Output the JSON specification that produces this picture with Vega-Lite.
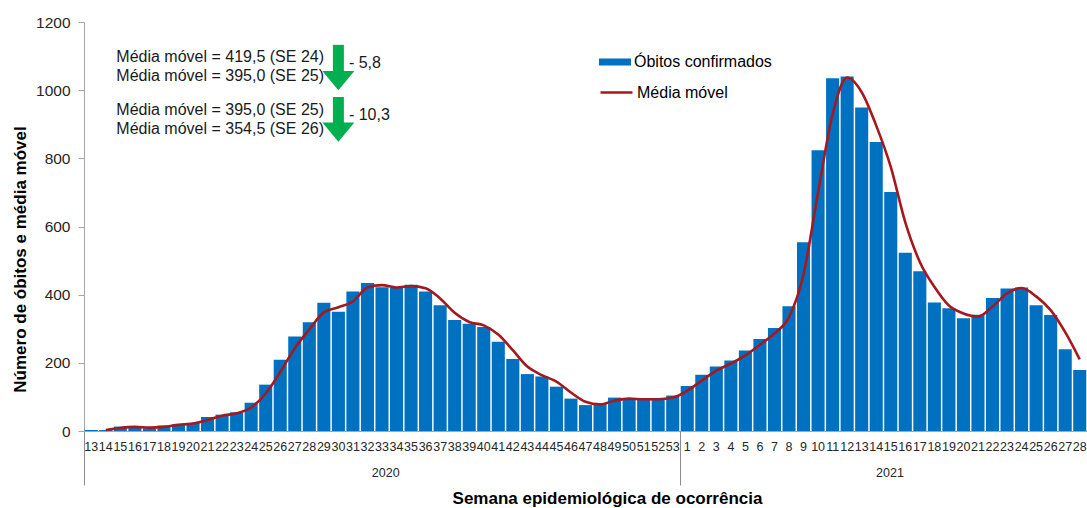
{
  "$schema": "https://vega.github.io/schema/vega-lite/v6.json",
  "width": 1003,
  "height": 409,
  "autosize": {"type": "none"},
  "padding": {"left": 84, "top": 22, "right": 0, "bottom": 77},
  "background": "white",
  "config": {"view": {"stroke": null}, "font": "Liberation Sans", "axis": {"grid": false}},
  "datasets": {
    "weeks": [
      {"k": "2020-13", "obitos": 3, "media": null},
      {"k": "2020-14", "obitos": 3, "media": 3},
      {"k": "2020-15", "obitos": 13, "media": 9},
      {"k": "2020-16", "obitos": 11, "media": 12},
      {"k": "2020-17", "obitos": 8, "media": 10},
      {"k": "2020-18", "obitos": 16, "media": 12},
      {"k": "2020-19", "obitos": 20, "media": 18},
      {"k": "2020-20", "obitos": 24, "media": 22},
      {"k": "2020-21", "obitos": 41, "media": 32},
      {"k": "2020-22", "obitos": 48, "media": 45},
      {"k": "2020-23", "obitos": 55, "media": 52},
      {"k": "2020-24", "obitos": 83, "media": 69},
      {"k": "2020-25", "obitos": 136, "media": 110},
      {"k": "2020-26", "obitos": 209, "media": 173},
      {"k": "2020-27", "obitos": 277, "media": 243},
      {"k": "2020-28", "obitos": 319, "media": 298},
      {"k": "2020-29", "obitos": 376, "media": 348},
      {"k": "2020-30", "obitos": 350, "media": 363},
      {"k": "2020-31", "obitos": 409, "media": 380},
      {"k": "2020-32", "obitos": 434, "media": 421},
      {"k": "2020-33", "obitos": 422, "media": 428},
      {"k": "2020-34", "obitos": 421, "media": 421},
      {"k": "2020-35", "obitos": 429, "media": 425},
      {"k": "2020-36", "obitos": 409, "media": 419},
      {"k": "2020-37", "obitos": 369, "media": 389},
      {"k": "2020-38", "obitos": 326, "media": 347},
      {"k": "2020-39", "obitos": 315, "media": 320},
      {"k": "2020-40", "obitos": 305, "media": 310},
      {"k": "2020-41", "obitos": 262, "media": 283},
      {"k": "2020-42", "obitos": 211, "media": 237},
      {"k": "2020-43", "obitos": 167, "media": 189},
      {"k": "2020-44", "obitos": 160, "media": 164},
      {"k": "2020-45", "obitos": 130, "media": 145},
      {"k": "2020-46", "obitos": 95, "media": 113},
      {"k": "2020-47", "obitos": 76, "media": 86},
      {"k": "2020-48", "obitos": 79, "media": 78},
      {"k": "2020-49", "obitos": 98, "media": 89},
      {"k": "2020-50", "obitos": 93, "media": 95},
      {"k": "2020-51", "obitos": 93, "media": 93},
      {"k": "2020-52", "obitos": 93, "media": 93},
      {"k": "2020-53", "obitos": 104, "media": 98},
      {"k": "2021-1", "obitos": 132, "media": 118},
      {"k": "2021-2", "obitos": 165, "media": 148},
      {"k": "2021-3", "obitos": 189, "media": 177},
      {"k": "2021-4", "obitos": 207, "media": 198},
      {"k": "2021-5", "obitos": 236, "media": 222},
      {"k": "2021-6", "obitos": 270, "media": 253},
      {"k": "2021-7", "obitos": 302, "media": 286},
      {"k": "2021-8", "obitos": 366, "media": 334},
      {"k": "2021-9", "obitos": 554, "media": 460},
      {"k": "2021-10", "obitos": 824, "media": 700},
      {"k": "2021-11", "obitos": 1035, "media": 930},
      {"k": "2021-12", "obitos": 1040, "media": 1037},
      {"k": "2021-13", "obitos": 949, "media": 994},
      {"k": "2021-14", "obitos": 848, "media": 896},
      {"k": "2021-15", "obitos": 701, "media": 775},
      {"k": "2021-16", "obitos": 523, "media": 612},
      {"k": "2021-17", "obitos": 469, "media": 496},
      {"k": "2021-18", "obitos": 377, "media": 423},
      {"k": "2021-19", "obitos": 360, "media": 368},
      {"k": "2021-20", "obitos": 331, "media": 345},
      {"k": "2021-21", "obitos": 341, "media": 336},
      {"k": "2021-22", "obitos": 390, "media": 365},
      {"k": "2021-23", "obitos": 418, "media": 404},
      {"k": "2021-24", "obitos": 421, "media": 419.5},
      {"k": "2021-25", "obitos": 369, "media": 395.0},
      {"k": "2021-26", "obitos": 340, "media": 354.5},
      {"k": "2021-27", "obitos": 240, "media": 290},
      {"k": "2021-28", "obitos": 179, "media": 210}
    ],
    "ann": [
      {"k": "2020-15", "y": 1097, "t": "Média móvel = 419,5 (SE 24)"},
      {"k": "2020-15", "y": 1042, "t": "Média móvel = 395,0 (SE 25)"},
      {"k": "2020-15", "y": 942, "t": "Média móvel  = 395,0 (SE 25)"},
      {"k": "2020-15", "y": 886, "t": "Média móvel  = 354,5 (SE 26)"},
      {"k": "2020-31", "y": 1080, "t": "- 5,8"},
      {"k": "2020-31", "y": 927, "t": "- 10,3"}
    ],
    "arrows": [
      {"k": "2020-30", "top": 1133, "bot": 1050, "head": 1028},
      {"k": "2020-30", "top": 980, "bot": 898, "head": 877}
    ]
  },
  "layer": [
    {
      "layer": [
        {
          "data": {"name": "weeks"},
          "mark": {"type": "bar"},
          "encoding": {
            "x": {
              "field": "k", "type": "nominal", "sort": null,
              "scale": {"domain": ["2020-13","2020-14","2020-15","2020-16","2020-17","2020-18","2020-19","2020-20","2020-21","2020-22","2020-23","2020-24","2020-25","2020-26","2020-27","2020-28","2020-29","2020-30","2020-31","2020-32","2020-33","2020-34","2020-35","2020-36","2020-37","2020-38","2020-39","2020-40","2020-41","2020-42","2020-43","2020-44","2020-45","2020-46","2020-47","2020-48","2020-49","2020-50","2020-51","2020-52","2020-53","2021-1","2021-2","2021-3","2021-4","2021-5","2021-6","2021-7","2021-8","2021-9","2021-10","2021-11","2021-12","2021-13","2021-14","2021-15","2021-16","2021-17","2021-18","2021-19","2021-20","2021-21","2021-22","2021-23","2021-24","2021-25","2021-26","2021-27","2021-28"], "paddingInner": 0.1, "paddingOuter": 0.05},
              "axis": {"title": null, "labelExpr": "split(datum.label, '-')[1]", "ticks": false, "labelPadding": 9, "labelFontSize": 12.5, "labelColor": "#262626", "labelAngle": 0, "domainColor": "#A6A6A6", "labelOverlap": false, "grid": false}
            },
            "y": {
              "field": "obitos", "type": "quantitative",
              "title": "Número de óbitos e média móvel",
              "scale": {"domain": [0, 1200], "nice": false},
              "axis": {"values": [0, 200, 400, 600, 800, 1000, 1200], "format": "d", "domainColor": "#A6A6A6", "tickColor": "#A6A6A6", "tickSize": 6, "labelFontSize": 15.5, "labelColor": "#262626", "labelPadding": 8, "titleFontSize": 17, "titleFontWeight": "bold", "titleColor": "#000000", "titleX": -64, "titleY": 237, "titleBaseline": "middle", "titleAngle": -90, "grid": false}
            },
            "fill": {
              "datum": "Óbitos confirmados", "type": "nominal",
              "scale": {"range": ["#0070C0"]},
              "legend": {"title": null, "orient": "none", "legendX": 515, "legendY": 24, "symbolType": "M-1,-0.22H1V0.22H-1Z", "symbolSize": 1024, "symbolStrokeWidth": 0, "labelFontSize": 16, "labelFont": "Liberation Sans", "labelColor": "#000000", "labelOffset": 3}
            }
          }
        },
        {
          "data": {"name": "ann"},
          "mark": {"type": "text", "align": "left", "baseline": "middle", "fontSize": 16, "dx": -4, "color": "#1a1a1a", "font": "Liberation Sans"},
          "encoding": {
            "x": {"field": "k", "type": "nominal", "title": null},
            "y": {"field": "y", "type": "quantitative", "title": "Número de óbitos e média móvel"},
            "text": {"field": "t"}
          }
        },
        {
          "data": {"name": "arrows"},
          "mark": {"type": "rule", "strokeWidth": 11, "color": "#00B050", "strokeCap": "butt"},
          "encoding": {
            "x": {"field": "k", "type": "nominal", "title": null},
            "y": {"field": "top", "type": "quantitative", "title": "Número de óbitos e média móvel"},
            "y2": {"field": "bot"}
          }
        },
        {
          "data": {"name": "arrows"},
          "mark": {"type": "point", "shape": "M-1,-0.6L1,-0.6L0,0.6Z", "size": 1024, "filled": true, "opacity": 1, "color": "#00B050"},
          "encoding": {
            "x": {"field": "k", "type": "nominal", "title": null},
            "y": {"field": "head", "type": "quantitative", "title": "Número de óbitos e média móvel"}
          }
        }
      ]
    },
    {
      "data": {"name": "weeks"},
      "transform": [{"filter": "isValid(datum.media)"}],
      "mark": {"type": "line", "strokeWidth": 2.6, "interpolate": "monotone"},
      "encoding": {
        "x": {
          "field": "k", "type": "nominal", "sort": null,
          "scale": {"domain": ["2020-13","2020-14","2020-15","2020-16","2020-17","2020-18","2020-19","2020-20","2020-21","2020-22","2020-23","2020-24","2020-25","2020-26","2020-27","2020-28","2020-29","2020-30","2020-31","2020-32","2020-33","2020-34","2020-35","2020-36","2020-37","2020-38","2020-39","2020-40","2020-41","2020-42","2020-43","2020-44","2020-45","2020-46","2020-47","2020-48","2020-49","2020-50","2020-51","2020-52","2020-53","2021-1","2021-2","2021-3","2021-4","2021-5","2021-6","2021-7","2021-8","2021-9","2021-10","2021-11","2021-12","2021-13","2021-14","2021-15","2021-16","2021-17","2021-18","2021-19","2021-20","2021-21","2021-22","2021-23","2021-24","2021-25","2021-26","2021-27","2021-28"], "paddingInner": 0.1, "paddingOuter": 0.05},
          "axis": {"orient": "bottom", "values": ["2020-13", "2020-34", "2021-1", "2021-15"], "tickOffset": -7.3, "domain": false, "ticks": true, "tickSize": 54, "tickColor": "#8C8C8C", "tickOpacity": {"condition": {"test": "datum.value == '2020-34' || datum.value == '2021-15'", "value": 0}, "value": 1}, "labelExpr": "datum.value == '2020-34' ? '2020' : (datum.value == '2021-15' ? '2021' : '')", "labelPadding": -19, "labelFontSize": 12.5, "labelColor": "#262626", "labelAngle": 0, "labelOffset": {"condition": {"test": "datum.value == '2020-34'", "value": -4}, "value": 6}, "labelOverlap": false, "title": "Semana epidemiológica  de ocorrência", "titleFontSize": 17, "titleFontWeight": "bold", "titleColor": "#000000", "titleX": 523, "titleY": 59, "titleBaseline": "top", "titleAlign": "center", "grid": false}
        },
        "y": {"field": "media", "type": "quantitative", "title": "Número de óbitos e média móvel"},
        "stroke": {
          "datum": "Média móvel", "type": "nominal",
          "scale": {"range": ["#A5191E"]},
          "legend": {"title": null, "orient": "none", "legendX": 515, "legendY": 53, "symbolType": "M-1,0H1", "symbolSize": 1024, "symbolStrokeWidth": 2.5, "labelFontSize": 16, "labelFont": "Liberation Sans", "labelColor": "#000000", "labelOffset": 3}
        }
      }
    }
  ],
  "resolve": {"scale": {"x": "independent"}, "axis": {"x": "independent"}}
}
